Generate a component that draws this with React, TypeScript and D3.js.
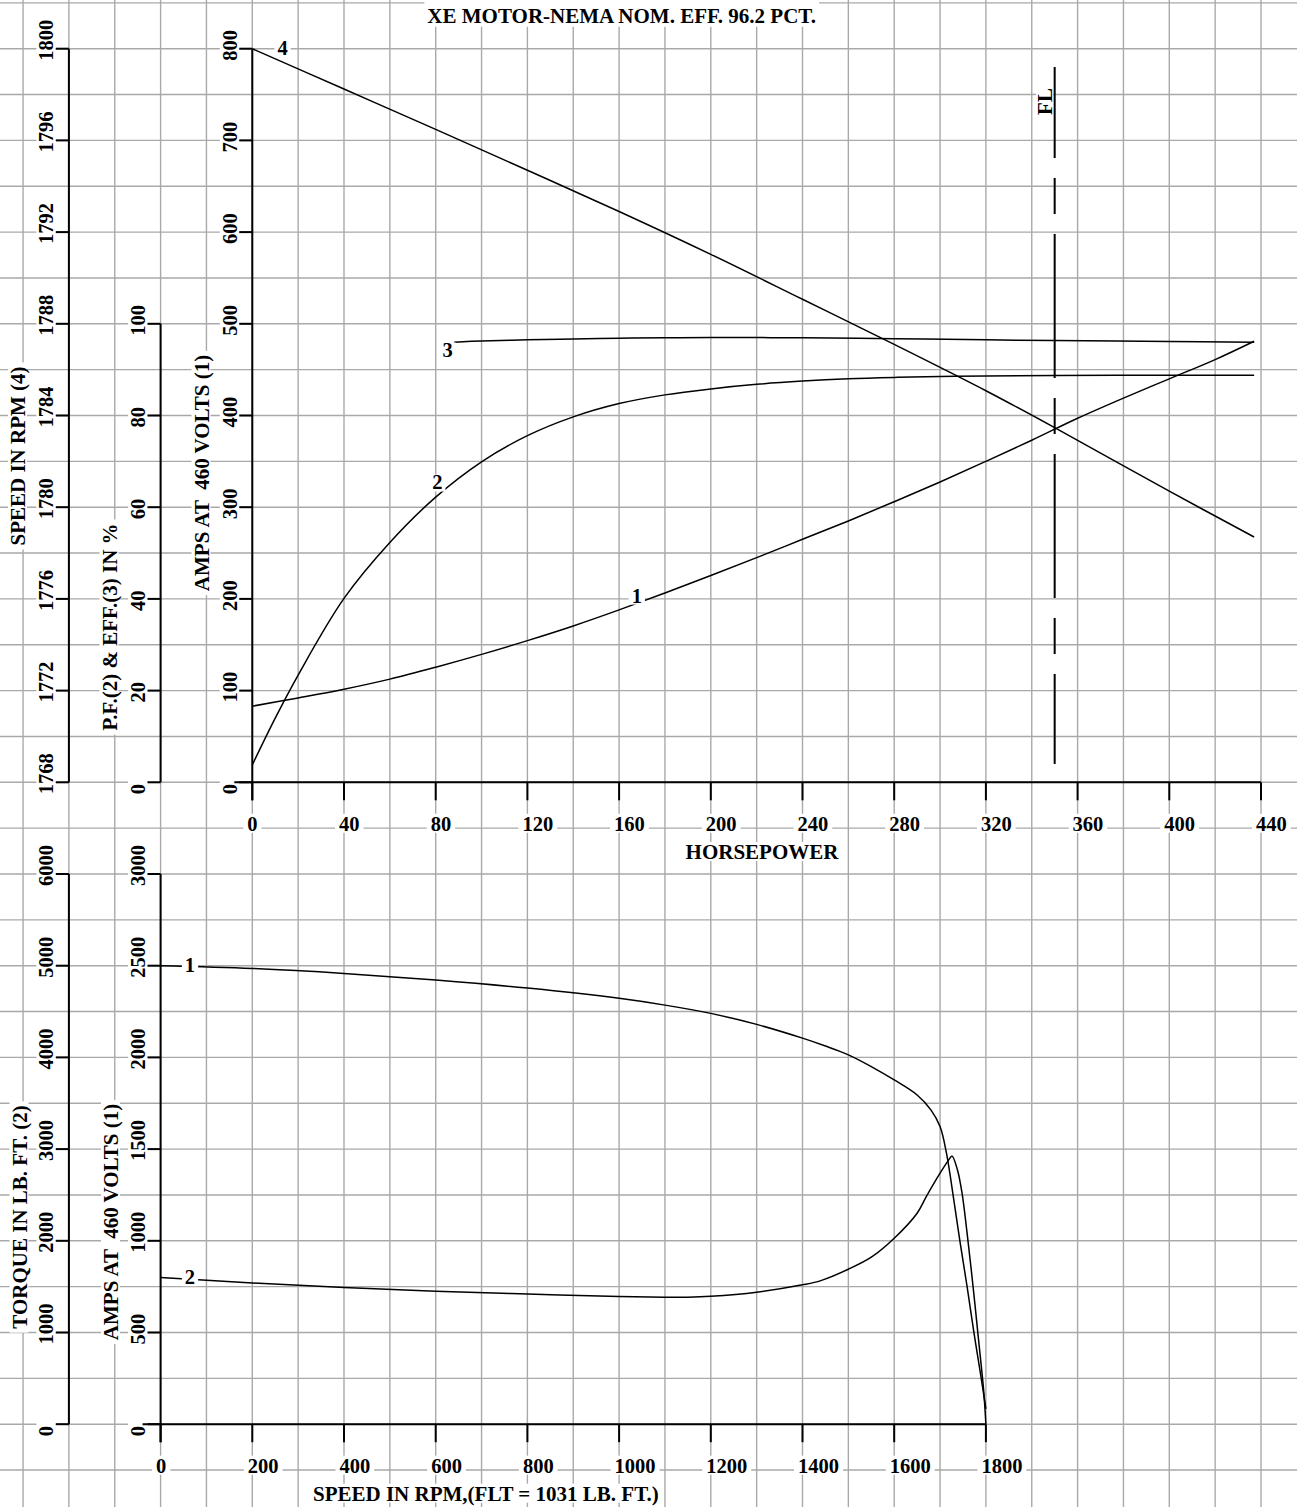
import React, { useLayoutEffect, useRef, useState } from 'react';
import * as d3 from 'd3';

const W = 1297;
const H = 1507;
const FONT = '"Liberation Serif","Times New Roman",Times,serif';
const TICK_FS = 20.5;
const TITLE_FS = 21;

// ---------- tick labels ----------
const speedTickVals = [1768, 1772, 1776, 1780, 1784, 1788, 1792, 1796, 1800];
const pctTickVals = [0, 20, 40, 60, 80, 100];
const ampsTopTickVals = [0, 100, 200, 300, 400, 500, 600, 700, 800];
const hpTickVals = [0, 40, 80, 120, 160, 200, 240, 280, 320, 360, 400, 440];
const rpmTickVals = [0, 200, 400, 600, 800, 1000, 1200, 1400, 1600, 1800];
const torqueTickVals = [0, 1000, 2000, 3000, 4000, 5000, 6000];
const ampsBotTickVals = [0, 500, 1000, 1500, 2000, 2500, 3000];

// ---------- top chart series (vs horsepower) ----------
// curve 1 : amps
const ampsHp = [0, 20, 40, 60, 80, 100, 120, 140, 160, 180, 200, 220, 240, 260, 280, 300, 320, 340, 360, 380, 400, 420, 437];
const ampsLoad = [83, 92, 101.5, 112.5, 125.5, 139.5, 154.5, 170.5, 188, 206.5, 225.5, 245, 265, 285, 306, 327.5, 350, 373, 397, 419, 440, 461, 481];
// curve 2 : power factor %
const pfHp = [0, 10, 20, 40, 60, 80, 100, 120, 140, 160, 180, 200, 220, 240, 260, 280, 300, 320, 350, 400, 437];
const pfVal = [3.8, 14, 23.4, 40.1, 52.3, 62.2, 69.9, 75.6, 79.7, 82.6, 84.5, 85.8, 86.8, 87.5, 88.0, 88.3, 88.5, 88.6, 88.7, 88.8, 88.8];
// curve 3 : efficiency %
const effHp = [88, 100, 120, 140, 160, 180, 200, 240, 280, 320, 350, 400, 437];
const effVal = [96.0, 96.25, 96.5, 96.7, 96.85, 96.95, 97.0, 96.95, 96.75, 96.5, 96.35, 96.15, 96.0];
// curve 4 : speed rpm
const speedHp = [0, 40, 80, 120, 160, 200, 240, 280, 320, 350, 400, 437];
const speedVal = [1800, 1798.24, 1796.48, 1794.7, 1792.9, 1791.03, 1789.07, 1787.1, 1785.08, 1783.47, 1780.7, 1778.7];

// full load marker
const flHp = 350;
const flAmpsRange = [780, 20];

// ---------- bottom chart series (vs speed) ----------
const ampsRpm = [0, 200, 400, 600, 800, 1000, 1100, 1200, 1300, 1400, 1450, 1500, 1550, 1600, 1650, 1680, 1700, 1714, 1730, 1744, 1759, 1773, 1788, 1800];
const ampsStart = [2500, 2485, 2458, 2422, 2378, 2322, 2285, 2240, 2180, 2105, 2062, 2014, 1950, 1877, 1795, 1714, 1623, 1478, 1223, 987, 750, 514, 278, 83];
const torqueRpm = [0, 200, 400, 600, 800, 1000, 1100, 1150, 1200, 1300, 1400, 1440, 1500, 1550, 1600, 1650, 1670, 1700, 1719, 1726, 1738, 1748, 1759, 1772, 1784, 1795, 1800];
const torqueVal = [1600, 1540, 1490, 1450, 1420, 1392, 1385, 1385, 1395, 1440, 1520, 1566, 1690, 1821, 2028, 2301, 2482, 2737, 2882, 2926, 2773, 2519, 2083, 1501, 919, 374, 0];

// ---------- scales ----------
const CELL = 45.85;
const X0 = 252.3;
const Y0 = 782.3;
const xHp = d3.scaleLinear().domain([0, 440]).range([X0, X0 + 22 * CELL]);
const yAmps = d3.scaleLinear().domain([0, 800]).range([Y0, Y0 - 16 * CELL]);
const yPct = d3.scaleLinear().domain([0, 100]).range([Y0, Y0 - 10 * CELL]);
const ySpeed = d3.scaleLinear().domain([1768, 1800]).range([Y0, Y0 - 16 * CELL]);
const BX0 = X0 - 2 * CELL;
const BY0 = Y0 + 14 * CELL;
const xRpm = d3.scaleLinear().domain([0, 1800]).range([BX0, BX0 + 18 * CELL]);
const yTorque = d3.scaleLinear().domain([0, 6000]).range([BY0, BY0 - 12 * CELL]);
const yAmpsB = d3.scaleLinear().domain([0, 3000]).range([BY0, BY0 - 12 * CELL]);

const speedAxisX = X0 - 4 * CELL;
const pctAxisX = X0 - 2 * CELL;

const gridXs = d3.range(-100, 441, 20).map((v) => xHp(v));
const gridYs = d3.range(850, -751, -50).map((v) => yAmps(v));

function pathOf(xs: number[], ys: number[], sx: any, sy: any) {
  const pts = xs.map((x, i) => [sx(x), sy(ys[i])] as [number, number]);
  return d3.line().curve(d3.curveCatmullRom.alpha(0.5))(pts) || '';
}

type BTProps = {
  x: number;
  y: number;
  rotate?: number;
  anchor?: string;
  text: string;
  top?: number;
  bottom?: number;
  padX?: number;
  fs?: number;
};

function BoxText({ x, y, rotate = 0, anchor = 'start', text, top = 17, bottom = 2, padX = 4, fs = TITLE_FS }: BTProps) {
  const ref = useRef<SVGTextElement>(null);
  const [bb, setBb] = useState<{ x: number; w: number } | null>(null);
  useLayoutEffect(() => {
    if (ref.current) {
      const b = ref.current.getBBox();
      setBb({ x: b.x, w: b.width });
    }
  }, [text]);
  return (
    <g transform={`translate(${x},${y})${rotate ? ` rotate(${rotate})` : ''}`}>
      {bb && <rect x={bb.x - padX} y={-top} width={bb.w + 2 * padX} height={top + bottom} fill="#fff" />}
      <text
        ref={ref}
        textAnchor={anchor as any}
        fontFamily={FONT}
        fontWeight="bold"
        fontSize={fs}
        fill="#000"
        style={{ whiteSpace: 'pre' }}
      >
        {text}
      </text>
    </g>
  );
}

function YTickLabels({ vals, scale, axisX }: { vals: number[]; scale: any; axisX: number }) {
  return (
    <>
      {vals.map((v) => (
        <BoxText key={v} x={axisX - 15.5} y={scale(v) + 12} rotate={-90} text={String(v)} fs={TICK_FS} />
      ))}
    </>
  );
}

function YTicks({ vals, scale, axisX }: { vals: number[]; scale: any; axisX: number }) {
  return (
    <>
      {vals.map((v) => (
        <line key={v} x1={axisX - 13} x2={axisX} y1={scale(v)} y2={scale(v)} stroke="#000" strokeWidth={2} />
      ))}
    </>
  );
}

export default function App() {
  const curve1 = pathOf(ampsHp, ampsLoad, xHp, yAmps);
  const curve2 = pathOf(pfHp, pfVal, xHp, yPct);
  const curve3 = pathOf(effHp, effVal, xHp, yPct);
  const curve4 = pathOf(speedHp, speedVal, xHp, ySpeed);
  const bCurve1 = pathOf(ampsRpm, ampsStart, xRpm, yAmpsB);
  const bCurve2 = pathOf(torqueRpm, torqueVal, xRpm, yTorque);

  const curveLabels = [
    { t: '4', x: xHp(13.2), y: ySpeed(1800) },
    { t: '3', x: xHp(85.2), y: yPct(94.1) },
    { t: '2', x: xHp(80.7), y: yPct(65.3) },
    { t: '1', x: xHp(167.7), y: yAmps(203.2) },
    { t: '1', x: xRpm(64.1), y: yAmpsB(2500) },
    { t: '2', x: xRpm(64.1), y: yTorque(1599) },
  ];

  const flX = xHp(flHp);
  const flY1 = yAmps(flAmpsRange[0]);
  const flY2 = yAmps(flAmpsRange[1]);

  return (
    <div style={{ position: 'absolute', left: 0, top: 0, width: W, height: H, overflow: 'hidden' }}>
      <svg width={W} height={H} style={{ display: 'block' }}>
        <rect x={0} y={0} width={W} height={H} fill="#fff" />
        {/* grid */}
        <g stroke="#a9a9a9" strokeWidth={1.4}>
          {gridXs.map((x, i) => (
            <line key={'gx' + i} x1={x} x2={x} y1={0} y2={H} />
          ))}
          {gridYs.map((y, i) => (
            <line key={'gy' + i} x1={0} x2={W} y1={y} y2={y} />
          ))}
        </g>

        {/* title */}
        <BoxText x={621.7} y={23.3} anchor="middle" text="XE MOTOR-NEMA NOM. EFF. 96.2 PCT." top={26} bottom={3.5} padX={3} />

        {/* top chart tick labels */}
        <YTickLabels vals={speedTickVals} scale={ySpeed} axisX={speedAxisX} />
        <YTickLabels vals={pctTickVals} scale={yPct} axisX={pctAxisX} />
        <YTickLabels vals={ampsTopTickVals} scale={yAmps} axisX={X0} />
        {hpTickVals.map((v) => (
          <BoxText key={'hp' + v} x={xHp(v) - 5} y={Y0 + 48.5} text={String(v)} fs={TICK_FS} />
        ))}
        <BoxText x={25} y={456} rotate={-90} anchor="middle" text="SPEED IN RPM (4)" />
        <BoxText x={116.5} y={627} rotate={-90} anchor="middle" text="P.F.(2) & EFF.(3) IN %" />
        <BoxText x={208.5} y={473} rotate={-90} anchor="middle" text="AMPS AT  460 VOLTS (1)" />
        <BoxText x={762} y={859} anchor="middle" text="HORSEPOWER" />

        {/* bottom chart tick labels */}
        <YTickLabels vals={torqueTickVals} scale={yTorque} axisX={speedAxisX} />
        <YTickLabels vals={ampsBotTickVals} scale={yAmpsB} axisX={pctAxisX} />
        {rpmTickVals.map((v) => (
          <BoxText key={'rpm' + v} x={xRpm(v) - 4.5} y={BY0 + 48.5} text={String(v)} fs={TICK_FS} />
        ))}
        <BoxText x={26.5} y={1217} rotate={-90} anchor="middle" text="TORQUE IN LB. FT. (2)" />
        <BoxText x={118} y={1222} rotate={-90} anchor="middle" text="AMPS AT  460 VOLTS (1)" />
        <BoxText x={313} y={1500.7} text="SPEED IN RPM,(FLT = 1031 LB. FT.)" />

        {/* axes */}
        <g stroke="#000" strokeWidth={2} fill="none">
          <line x1={speedAxisX} x2={speedAxisX} y1={ySpeed(1800)} y2={ySpeed(1768)} />
          <YTicks vals={speedTickVals} scale={ySpeed} axisX={speedAxisX} />
          <line x1={pctAxisX} x2={pctAxisX} y1={yPct(100)} y2={yPct(0)} />
          <YTicks vals={pctTickVals} scale={yPct} axisX={pctAxisX} />
          <line x1={X0} x2={X0} y1={yAmps(800)} y2={Y0 + 18} />
          <YTicks vals={ampsTopTickVals} scale={yAmps} axisX={X0} />
          <line x1={X0 - 18} x2={xHp(440)} y1={Y0} y2={Y0} />
          {hpTickVals.map((v) => (
            <line key={'hpt' + v} x1={xHp(v)} x2={xHp(v)} y1={Y0} y2={Y0 + 18} />
          ))}

          <line x1={speedAxisX} x2={speedAxisX} y1={yTorque(6000)} y2={yTorque(0)} />
          <YTicks vals={torqueTickVals} scale={yTorque} axisX={speedAxisX} />
          <line x1={pctAxisX} x2={pctAxisX} y1={yAmpsB(3000)} y2={BY0 + 18} />
          <YTicks vals={ampsBotTickVals} scale={yAmpsB} axisX={pctAxisX} />
          <line x1={BX0 - 18} x2={xRpm(1800)} y1={BY0} y2={BY0} />
          {rpmTickVals.map((v) => (
            <line key={'rpmt' + v} x1={xRpm(v)} x2={xRpm(v)} y1={BY0} y2={BY0 + 18} />
          ))}
        </g>

        {/* curves */}
        <g stroke="#000" strokeWidth={1.5} fill="none">
          <path d={curve1} />
          <path d={curve2} />
          <path d={curve3} />
          <path d={curve4} />
          <path d={bCurve1} />
          <path d={bCurve2} />
        </g>

        {/* curve labels */}
        {curveLabels.map((l, i) => (
          <BoxText key={'cl' + i} x={l.x} y={l.y + 6.6} anchor="middle" text={l.t} top={15} bottom={2} padX={3} fs={TICK_FS} />
        ))}

        {/* full load line */}
        <BoxText x={flX - 2.5} y={101.5} rotate={-90} anchor="middle" text="FL" top={16} bottom={1} padX={3} />
        <line
          x1={flX}
          x2={flX}
          y1={flY1}
          y2={flY2}
          stroke="#000"
          strokeWidth={2}
          strokeDasharray="144 20 36 20"
          strokeDashoffset={53}
        />
      </svg>
    </div>
  );
}
